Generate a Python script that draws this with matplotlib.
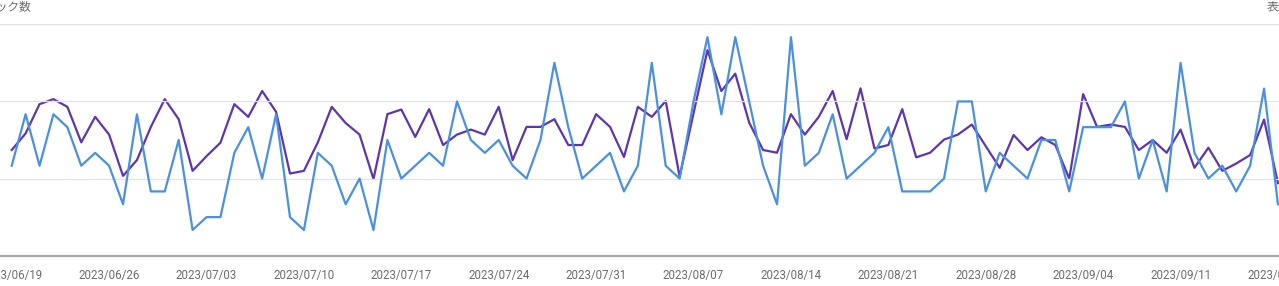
import numpy as np
import pandas as pd
import matplotlib
matplotlib.use("Agg")
import matplotlib.pyplot as plt

plt.rcParams['font.family'] = ['Roboto', 'Noto Sans CJK JP', 'DejaVu Sans']

# 日付 (2023/06/19 - 2023/09/18)
dates = pd.date_range("2023-06-19", "2023-09-18", freq="D")

# クリック数 (青, 左軸)
clicks = [
    7, 11, 7, 11, 10, 7, 8, 7, 4, 11,
    5, 5, 9, 2, 3, 3, 8, 10, 6, 11,
    3, 2, 8, 7, 4, 6, 2, 9, 6, 7,
    8, 7, 12, 9, 8, 9, 7, 6, 9, 15,
    10, 6, 7, 8, 5, 7, 15, 7, 6, 12,
    17, 11, 17, 12, 7, 4, 17, 7, 8, 11,
    6, 7, 8, 10, 5, 5, 5, 6, 12, 12,
    5, 8, 7, 6, 9, 9, 5, 10, 10, 10,
    12, 6, 9, 5, 15, 8, 6, 7, 5, 7,
    13, 4,
]

# 表示回数 (紫, 右軸)
impressions = [
    274, 317, 393, 406, 386, 294, 360, 314, 207, 248,
    334, 406, 354, 220, 258, 293, 393, 360, 427, 373,
    213, 220, 294, 386, 344, 314, 199, 367, 379, 308,
    380, 287, 314, 327, 314, 386, 248, 334, 334, 354,
    287, 287, 367, 334, 256, 386, 360, 401, 205, 369,
    533, 427, 472, 345, 274, 267, 367, 314, 360, 427,
    302, 434, 278, 287, 380, 255, 267, 301, 314, 340,
    284, 228, 313, 274, 307, 287, 200, 419, 334, 340,
    334, 274, 300, 267, 327, 228, 280, 220, 239, 261,
    353, 188,
]

tick_dates = pd.date_range("2023-06-19", "2023-09-18", freq="7D")
tick_labels = [d.strftime("%Y/%m/%d") for d in tick_dates]

W, H = 1279, 286
fig = plt.figure(figsize=(W / 100, H / 100), dpi=100)

# 軸の位置 (ピクセルから)
bottom = (H - 255.7) / H
top = (H - 24.3) / H
ax = fig.add_axes([0, bottom, 1, top - bottom])
ax2 = ax.twinx()

day0 = dates[0]
step = 13.915
left_days = -11.7 / step
right_days = (W - 11.7) / step
ax.set_xlim(day0 + pd.Timedelta(days=left_days), day0 + pd.Timedelta(days=right_days))

ax.set_ylim(0, 18)
ax2.set_ylim(0, 600)

# グリッド
for v in [6, 12, 18]:
    ax.axhline(v, color="#e3e3e3", lw=0.9, zorder=0)
ax.axhline(0, color="#a8a8a8", lw=1.6, zorder=1, clip_on=False)

ax2.plot(dates, impressions, color="#5e35b1", lw=1.6, zorder=3)
ax.plot(dates, clicks, color="#4a90e2", lw=1.6, zorder=4)
ax.set_zorder(ax2.get_zorder() + 1)
ax.patch.set_visible(False)

for a in (ax, ax2):
    for s in a.spines.values():
        s.set_visible(False)
    a.set_yticks([])

ax.set_xticks(tick_dates)
ax.set_xticklabels(tick_labels)
ax.tick_params(axis="x", length=0, pad=9.5, labelsize=8.3, labelcolor="#6b6b6b")
ax2.tick_params(axis="x", length=0)

# 軸タイトル (切れている)
fig.text(32 / W, 1 - 0.5 / H, "クリック数", ha="right", va="top",
         fontsize=8.5, color="#6b6b6b", family=['Noto Sans CJK JP', 'DejaVu Sans'])
fig.text(1267 / W, 1 - 0.5 / H, "表示回数", ha="left", va="top",
         fontsize=8.5, color="#6b6b6b", family=['Noto Sans CJK JP', 'DejaVu Sans'])

fig.savefig("out.png", dpi=100)
